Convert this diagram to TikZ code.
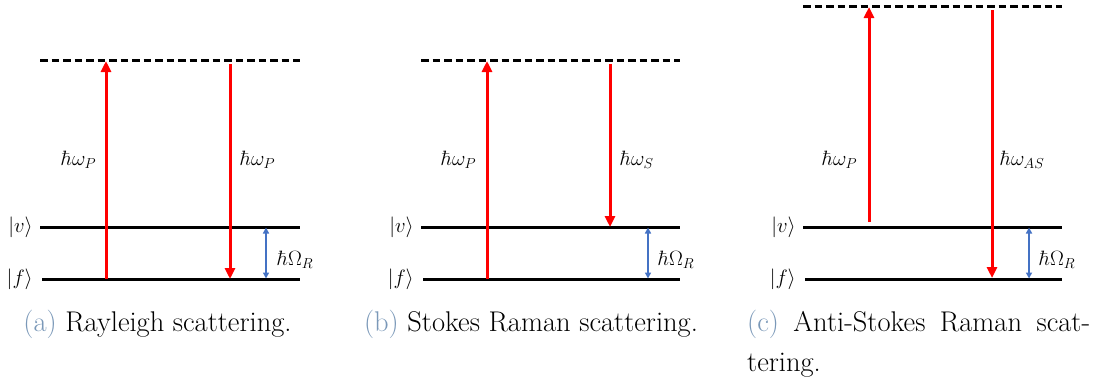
\documentclass[tikz,border=0pt]{standalone}
\usetikzlibrary{arrows.meta}
\definecolor{capblue}{RGB}{122,152,184}
\definecolor{arrred}{RGB}{255,0,0}
\definecolor{arrblue}{RGB}{68,114,196}
\tikzset{
  enlevel/.style={line width=3pt,black},
  virtlevel/.style={line width=3pt,black,dash pattern=on 7.5pt off 4pt},
  photon/.style={line width=3pt,arrred,-{Triangle[length=11pt,width=10pt]}},
  gaparrow/.style={line width=1.5pt,arrblue,{Triangle[length=6pt,width=6pt]}-{Triangle[length=6pt,width=6pt]}},
  lbl/.style={font=\fontsize{21}{25}\selectfont,inner sep=0pt},
  captext/.style={font=\fontsize{28.5}{40}\selectfont,inner sep=0pt,anchor=base}
}
\begin{document}
\begin{tikzpicture}[x=1pt,y=-1pt]
\useasboundingbox (0,0) rectangle (1102,381);
% ---------- panel (a)
\coordinate (av1) at (40,60);  \coordinate (av2) at (300,60);
\coordinate (ev1) at (40,227); \coordinate (ev2) at (300,227);
\coordinate (ef1) at (42,279); \coordinate (ef2) at (300,279);
\draw[virtlevel] (av1) -- (av2);
\draw[enlevel] (ev1) -- (ev2);
\draw[enlevel] (ef1) -- (ef2);
\node[lbl,anchor=east] (alv) at (33,227) {$|v\rangle$};
\node[lbl,anchor=east] (alf) at (33,279) {$|f\rangle$};
\coordinate (aus) at (106,279); \coordinate (aue) at (106,61);
\coordinate (ads) at (230,64);  \coordinate (ade) at (230,279);
\draw[photon] (aus) -- (aue);
\draw[photon] (ads) -- (ade);
\coordinate (ags) at (266,227.5); \coordinate (age) at (266,278.5);
\draw[gaparrow] (ags) -- (age);
\node[lbl,anchor=west] (alp) at (61,160) {$\hbar\omega_P$};
\node[lbl,anchor=west] (alq) at (240,160) {$\hbar\omega_P$};
\node[lbl,anchor=west] (alo) at (277,260) {$\hbar\Omega_R$};
\node[captext] (acap) at (157.5,331) {\textcolor{capblue}{(a)} Rayleigh scattering.};
% ---------- panel (b)
\coordinate (bv1) at (421,60);  \coordinate (bv2) at (680,60);
\coordinate (fv1) at (421,227); \coordinate (fv2) at (680,227);
\coordinate (ff1) at (423,279); \coordinate (ff2) at (680,279);
\draw[virtlevel] (bv1) -- (bv2);
\draw[enlevel] (fv1) -- (fv2);
\draw[enlevel] (ff1) -- (ff2);
\node[lbl,anchor=east] (blv) at (414,227) {$|v\rangle$};
\node[lbl,anchor=east] (blf) at (414,279) {$|f\rangle$};
\coordinate (bus) at (487,279); \coordinate (bue) at (487,61);
\coordinate (bds) at (610,64);  \coordinate (bde) at (610,227);
\draw[photon] (bus) -- (bue);
\draw[photon] (bds) -- (bde);
\coordinate (bgs) at (648,227.5); \coordinate (bge) at (648,278.5);
\draw[gaparrow] (bgs) -- (bge);
\node[lbl,anchor=west] (blp) at (441,160) {$\hbar\omega_P$};
\node[lbl,anchor=west] (blq) at (620,160) {$\hbar\omega_S$};
\node[lbl,anchor=west] (blo) at (658,260) {$\hbar\Omega_R$};
\node[captext] (bcap) at (531,331) {\textcolor{capblue}{(b)} Stokes Raman scattering.};
% ---------- panel (c)
\coordinate (cv1) at (803,6);   \coordinate (cv2) at (1062,6);
\coordinate (gv1) at (803,227); \coordinate (gv2) at (1062,227);
\coordinate (gf1) at (805,279); \coordinate (gf2) at (1062,279);
\draw[virtlevel] (cv1) -- (cv2);
\draw[enlevel] (gv1) -- (gv2);
\draw[enlevel] (gf1) -- (gf2);
\node[lbl,anchor=east] (clv) at (796,227) {$|v\rangle$};
\node[lbl,anchor=east] (clf) at (796,279) {$|f\rangle$};
\coordinate (cus) at (869,222); \coordinate (cue) at (869,7);
\coordinate (cds) at (992,10);  \coordinate (cde) at (992,278);
\draw[photon] (cus) -- (cue);
\draw[photon] (cds) -- (cde);
\coordinate (cgs) at (1029,227.5); \coordinate (cge) at (1029,278.5);
\draw[gaparrow] (cgs) -- (cge);
\node[lbl,anchor=west] (clp) at (822,160) {$\hbar\omega_P$};
\node[lbl,anchor=west] (clq) at (1000,160) {$\hbar\omega_{AS}$};
\node[lbl,anchor=west] (clo) at (1039,260) {$\hbar\Omega_R$};
\node[captext,anchor=base west,text width=343pt,align=justify] (ccap) at (747,331)
  {\textcolor{capblue}{(c)} Anti-Stokes Raman scat-\linebreak tering.};
\end{tikzpicture}
\end{document}
